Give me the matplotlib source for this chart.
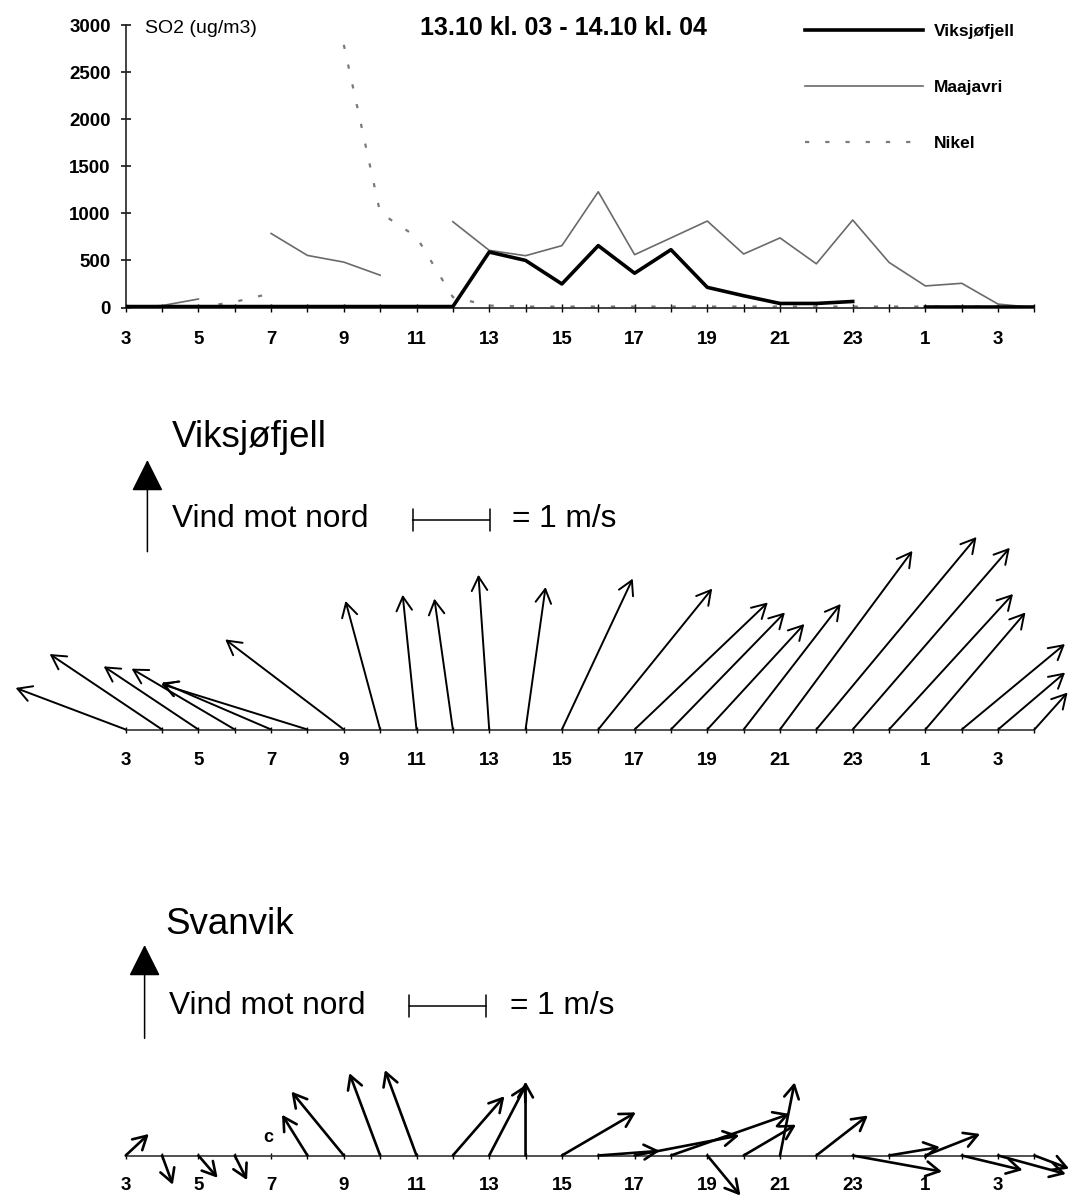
import numpy as np
import matplotlib
matplotlib.use("Agg")
import matplotlib.pyplot as plt
from matplotlib.patches import FancyArrowPatch

plt.rcParams['font.family'] = ['Liberation Sans', 'DejaVu Sans']

# ---------------- data ----------------
nan = np.nan
# hours from 13.10 kl. 03 to 14.10 kl. 04 (25 = kl. 01 next day)
hours = np.arange(3, 29)

so2_viksjofjell = [10, 10, 10, 10, 10, 10, 10, 10, 10, 10,
                   589, 500, 250, 657, 364, 614, 214, 125, 43, 43, 64,
                   nan, 5, 5, 5, 5]
so2_maajavri = [5, 20, 90, nan, 786, 553, 482, 343, nan, 911,
                607, 550, 657, 1229, 561, 739, 918, 568, 739, 464, 929,
                479, 229, 257, 36, 0]
so2_nikel = [nan, nan, 0, 60, 150, nan, 2790, 1007, 750, 110,
             20, 10, 10, 10, 10, 10, 10, 10, 10, 10, 10,
             10, 10, 10, 10, 10]

yticks = [0, 500, 1000, 1500, 2000, 2500, 3000]

# wind vectors (m/s): u = towards east, v = towards north
viks_u = [-1.43, -1.46, -1.23, -1.34, -1.42, -1.90, -1.54, -0.45, -0.18, -0.24,
          -0.14, 0.26, 0.92, 1.48, 1.73, 1.48, 1.26, 1.26, 1.72, 2.08,
          2.04, 1.61, 1.30, 1.34, 0.87, 0.43]
viks_v = [0.54, 0.98, 0.82, 0.79, 0.61, 0.59, 1.17, 1.67, 1.75, 1.70,
          2.01, 1.85, 1.96, 1.83, 1.65, 1.52, 1.37, 1.63, 2.32, 2.50,
          2.36, 1.76, 1.52, 1.11, 0.74, 0.48]

svan_u = [0.30, 0.14, 0.25, 0.16, nan, -0.33, -0.68, -0.40, -0.41, 0.67,
          0.48, 0.00, 0.96, 0.80, 1.36, 1.54, 0.43, 0.68, 0.19, 0.67,
          1.16, 0.66, 0.71, 0.79, 0.88, 0.45]
svan_v = [0.28, -0.38, -0.29, -0.32, nan, 0.53, 0.83, 1.07, 1.11, 0.77,
          0.92, 0.96, 0.56, 0.06, 0.26, 0.54, -0.52, 0.40, 0.95, 0.52,
          -0.21, 0.11, 0.28, -0.19, -0.24, -0.17]
svan_calm_hour = 7

tick_labels = [str(h if h <= 24 else h - 24) if h % 2 == 1 else '' for h in hours]

# ---------------- layout helpers ----------------
W, H = 1072, 1199
fig = plt.figure(figsize=(W / 100, H / 100), dpi=100)


def fx(px):
    return px / W


def fy(py):
    return 1 - py / H


X0, X1 = 125.7, 1034.45      # pixel positions of hour 3 and hour 28
PPU = (X1 - X0) / 25.0        # pixels per hour
K = 77.0 / PPU                # hours per (m/s) so that 1 m/s = 77 px

# ---------------- top: SO2 ----------------
ax = fig.add_axes([fx(X0), fy(307.5), fx(X1) - fx(X0), (307.5 - 25) / H])
ax.plot(hours, so2_maajavri, color='#6a6a6a', lw=1.2, label='Maajavri', zorder=2)
ax.plot(hours, so2_nikel, color='#7a7a7a', lw=1.6, ls=(0, (1.9, 7.2)), label='Nikel', zorder=2)
ax.plot(hours, so2_viksjofjell, color='black', lw=2.6, label='Viksjøfjell', zorder=3)
ax.set_xlim(3, 28)
ax.set_ylim(0, 3000)
for s in ['top', 'right']:
    ax.spines[s].set_visible(False)
ax.spines['left'].set_bounds(0, 3000)
for s in ['left', 'bottom']:
    ax.spines[s].set_linewidth(1.2)
    ax.spines[s].set_color('#222222')
ax.set_yticks(yticks)
ax.set_yticklabels([str(t) for t in yticks], fontweight='bold', fontsize=13.5)
ax.set_xticks(hours)
ax.set_xticklabels(tick_labels, fontweight='bold', fontsize=13.5)
ax.tick_params(axis='y', direction='inout', length=7.4, width=1.1, pad=7)
ax.tick_params(axis='x', direction='inout', length=5.5, width=1.0, pad=14)
ax.patch.set_visible(False)

h_ = ax.get_legend_handles_labels()
order = [2, 0, 1]
ax.legend([h_[0][i] for i in order], [h_[1][i] for i in order],
          loc='upper left', bbox_to_anchor=(fx(805), fy(24)), bbox_transform=fig.transFigure,
          frameon=False, handlelength=6.8, handletextpad=0.6, labelspacing=2.35,
          borderpad=0, borderaxespad=0, prop=dict(weight='bold', size=12.5))

fig.text(fx(563), fy(35), '13.10 kl. 03 - 14.10 kl. 04', ha='center', va='baseline',
         fontsize=18, fontweight='bold')
fig.text(fx(144.6), fy(33), 'SO2 (ug/m3)', ha='left', va='baseline', fontsize=14)


# ---------------- wind panels ----------------
def wind_panel(base_px, top_px, bottom_px, u, v, lw, ms, pad):
    a = fig.add_axes([fx(X0), fy(bottom_px), fx(X1) - fx(X0), (bottom_px - top_px) / H])
    a.set_xlim(3, 28)
    a.set_ylim(-(bottom_px - base_px) / PPU, (base_px - top_px) / PPU)
    a.patch.set_visible(False)
    for s in ['left', 'right', 'top']:
        a.spines[s].set_visible(False)
    a.spines['bottom'].set_position(('data', 0))
    a.spines['bottom'].set_linewidth(1.2)
    a.spines['bottom'].set_color('#333333')
    a.set_yticks([])
    a.set_xticks(hours)
    a.set_xticklabels(tick_labels, fontweight='bold', fontsize=13.5)
    a.tick_params(axis='x', direction='inout', length=4, width=1.0, pad=pad)
    for h, uu, vv in zip(hours, u, v):
        if np.isnan(uu):
            continue
        a.annotate('', xy=(h + uu * K, vv * K), xytext=(h, 0), xycoords='data',
                   arrowprops=dict(arrowstyle='->,head_length=0.5,head_width=0.28',
                                   lw=lw, color='black', shrinkA=0, shrinkB=0,
                                   mutation_scale=ms),
                   annotation_clip=False)
    return a


def header(name, name_base, name_x, vind_base, vind_x, arrow_x, arrow_top, arrow_bot,
           bar_x, bar_y, eq_x, a, base_px):
    fig.text(fx(name_x), fy(name_base), name, ha='left', va='baseline', fontsize=26.5)
    fig.text(fx(vind_x), fy(vind_base), 'Vind mot nord', ha='left', va='baseline', fontsize=22.8)
    fig.text(fx(eq_x), fy(vind_base), '= 1 m/s', ha='left', va='baseline', fontsize=22.8)
    arr = FancyArrowPatch((fx(arrow_x), fy(arrow_bot)), (fx(arrow_x), fy(arrow_top)),
                          transform=fig.transFigure,
                          arrowstyle='-|>,head_length=0.4,head_width=0.2',
                          mutation_scale=50, lw=1.1, color='black', shrinkA=0, shrinkB=0)
    fig.add_artist(arr)
    xb = 3 + (bar_x - X0) / PPU
    yb = (base_px - bar_y) / PPU
    a.annotate('', xy=(xb + 1.0 * K, yb), xytext=(xb, yb), xycoords='data',
               arrowprops=dict(arrowstyle='|-|,widthA=0.55,widthB=0.55', lw=1.1,
                               color='black', shrinkA=0, shrinkB=0, mutation_scale=14),
               annotation_clip=False)


viks_base = 729.5
av = wind_panel(viks_base, 500, 800, viks_u, viks_v, lw=1.4, ms=20, pad=14)
header('Viksjøfjell', 446.7, 172, 526.7, 172, 147.4, 460, 551.7,
       412.5, 520, 512, av, viks_base)

svan_base = 1155.5
asv = wind_panel(svan_base, 1040, 1199, svan_u, svan_v, lw=1.9, ms=19, pad=13.5)
header('Svanvik', 934.3, 165.3, 1014, 168.7, 144.6, 945, 1038.3,
       409, 1006, 509.6, asv, svan_base)
asv.text(svan_calm_hour - 0.08, (svan_base - 1137.3) / PPU, 'c', ha='center', va='center',
         fontsize=13, fontweight='bold')

fig.savefig('out.png', dpi=100)
